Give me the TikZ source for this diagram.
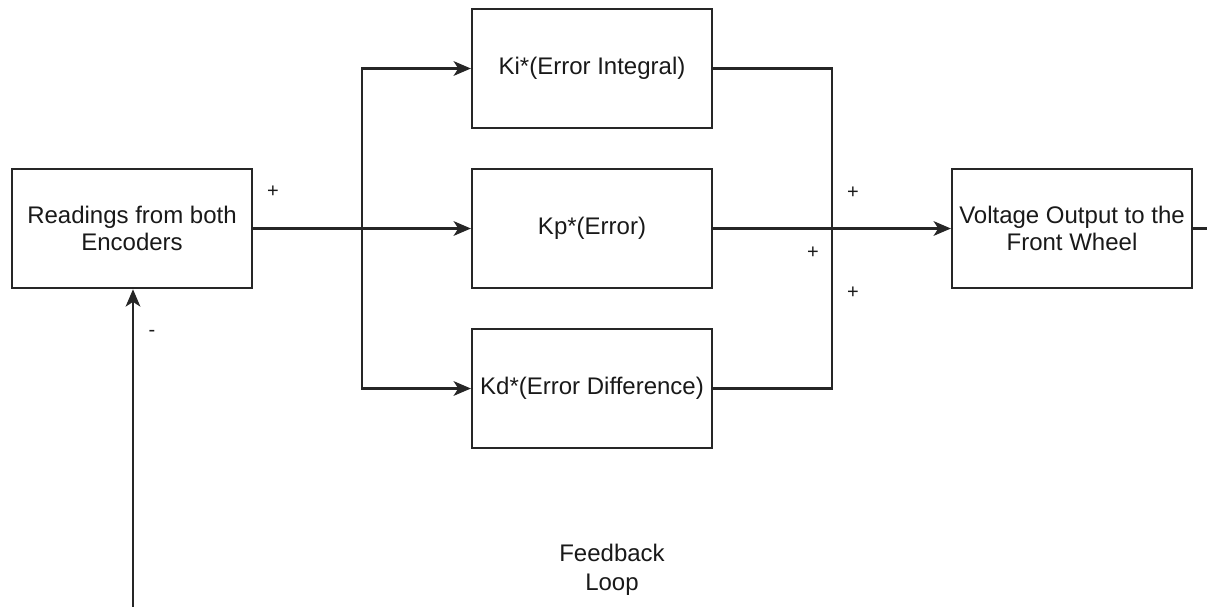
\documentclass[tikz,border=0pt]{standalone}
\usepackage{fontspec}
\setmainfont{Liberation Sans}
\usetikzlibrary{arrows.meta}
\begin{document}
\begin{tikzpicture}[x=0.75pt,y=-0.75pt,
  blk/.style={draw=black!85,line width=1.6pt,minimum width=180pt,minimum height=89.5pt,inner sep=0pt,align=center,font=\fontsize{18}{20.5}\selectfont,text=black!90},
  wire/.style={draw=black!85,line width=1.6pt},
  arr/.style={wire,-{Stealth[length=13pt,width=11pt,inset=3.5pt]}},
  sign/.style={font=\fontsize{15}{18}\selectfont,text=black!90,inner sep=0pt}]
\useasboundingbox (0,0) rectangle (1207,607);
\node[blk] (rd) at (132,228.5) {Readings from both\\Encoders};
\node[blk] (ki) at (592,68.5) {Ki*(Error Integral)};
\node[blk] (kp) at (592,228.5) {Kp*(Error)};
\node[blk] (kd) at (592,388.5) {Kd*(Error Difference)};
\node[blk] (vo) at (1072,228.5) {Voltage Output to the\\Front Wheel};
\coordinate (sp) at (362,228.5);
\coordinate (mg) at (832,228.5);
\coordinate (out) at (1207,228.5);
\coordinate (fb) at (133,607);
\draw[wire] (rd.east) -- (sp);
\draw[arr] (sp) -- (kp.west);
\draw[arr] (sp) |- (ki.west);
\draw[arr] (sp) |- (kd.west);
\draw[wire] (ki.east) -| (mg);
\draw[wire] (kd.east) -| (mg);
\draw[wire] (kp.east) -- (mg);
\draw[arr] (mg) -- (vo.west);
\draw[wire] (vo.east) -- (out);
\draw[arr] (fb) -- (rd.south -| fb);
\node[sign] (p1) at (273,192) {+};
\node[sign] (p2) at (853,193) {+};
\node[sign] (p3) at (813,253) {+};
\node[sign] (p4) at (853,293) {+};
\node[sign] (m1) at (152,333) {-};
\node[align=center,font=\fontsize{18}{22}\selectfont,text=black!90] (fl) at (612,570) {Feedback\\Loop};
\end{tikzpicture}
\end{document}
